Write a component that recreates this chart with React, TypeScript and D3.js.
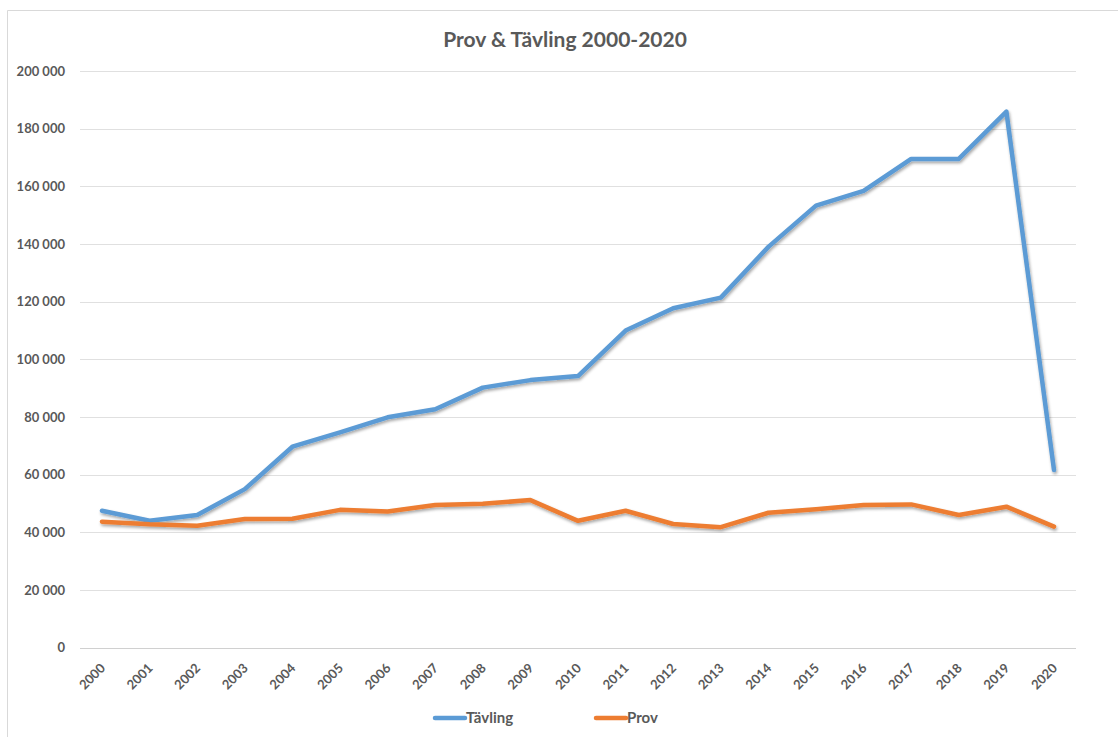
import React from "react";
import * as d3 from "d3";

const years = ["2000","2001","2002","2003","2004","2005","2006","2007","2008","2009","2010","2011","2012","2013","2014","2015","2016","2017","2018","2019","2020"];
const tavling = [47500,44000,46000,55000,69700,74700,79900,82700,90200,92800,94200,110000,117700,121400,139000,153300,158400,169500,169500,185900,61600];
const prov = [43700,42800,42300,44600,44700,47800,47200,49500,49900,51200,44000,47500,42900,41800,46800,48000,49500,49700,46000,48900,42000];
const yTicks = [0,20000,40000,60000,80000,100000,120000,140000,160000,180000,200000];
const seriesNames = ["Tävling","Prov"];
const colors = ["#5B9BD5","#ED7D31"];

const W = 1118, H = 737;
const FONT = "Lato, 'Open Sans', sans-serif";
const TXT = "#595959";

export default function App() {
  const x = d3.scalePoint<string>().domain(years).range([102, 1054]);
  const y = d3.scaleLinear().domain([0, 200000]).range([647.7, 71]);
  const fmt = (v: number) => d3.format(",")(v).replace(/,/g, " ");
  const line = d3.line<number>().x((_, i) => x(years[i]) as number).y((d) => y(d));
  const series = [tavling, prov];

  return (
    <svg width={W} height={H} style={{ position: "absolute", left: 0, top: 0, background: "#fff" }} fontFamily={FONT}>
      <defs>
        <filter id="sh" x="-10%" y="-10%" width="120%" height="130%">
          <feDropShadow dx="1" dy="2" stdDeviation="1.4" floodColor="#000" floodOpacity="0.35" />
        </filter>
      </defs>
      <rect x={0} y={0} width={W} height={H} fill="#fff" />
      <line x1={7.5} y1={10.5} x2={W} y2={10.5} stroke="#d9d9d9" />
      <line x1={7.5} y1={10.5} x2={7.5} y2={H} stroke="#d9d9d9" />
      <text x={565} y={47} textAnchor="middle" fontSize={21} fontWeight="bold" fill={TXT}>Prov &amp; Tävling 2000-2020</text>
      {yTicks.map((t) => (
        <g key={t}>
          <line x1={80} x2={1076} y1={Math.round(y(t)) + 0.5} y2={Math.round(y(t)) + 0.5} stroke={t === 0 ? "#d0d0d0" : "#e0e0e0"} strokeWidth={t === 0 ? 1.2 : 1} />
          <text x={65} y={y(t)} dy="0.36em" textAnchor="end" fontSize={13} fontWeight="bold" fill={TXT}>{fmt(t)}</text>
        </g>
      ))}
      {years.map((yr) => (
        <text key={yr} transform={`translate(${(x(yr) as number) + 4},${669}) rotate(-45)`} textAnchor="end" fontSize={13} fontWeight="bold" fill={TXT}>{yr}</text>
      ))}
      {series.map((s, i) => (
        <path key={i} d={line(s) || ""} fill="none" stroke={colors[i]} strokeWidth={4.5} strokeLinejoin="round" strokeLinecap="round" filter="url(#sh)" />
      ))}
      {seriesNames.map((n, i) => {
        const lx = i === 0 ? 435 : 596;
        return (
          <g key={n}>
            <line x1={lx} x2={lx + 30} y1={718} y2={718} stroke={colors[i]} strokeWidth={4.5} strokeLinecap="round" />
            <text x={lx + 31} y={718} dy="0.36em" fontSize={15} fontWeight="bold" fill={TXT}>{n}</text>
          </g>
        );
      })}
    </svg>
  );
}
